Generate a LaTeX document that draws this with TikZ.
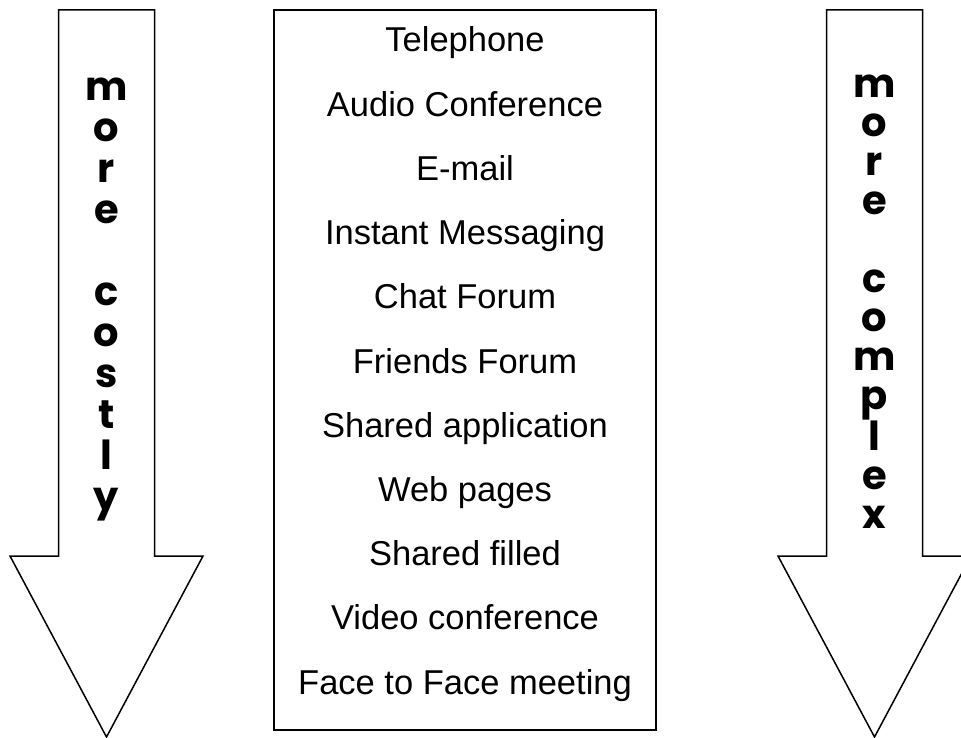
\documentclass[tikz,border=0pt]{standalone}
\usepackage{fontspec}
\setmainfont{Liberation Sans}
\newfontfamily\comicfont{Poppins}
\usetikzlibrary{positioning}

\tikzset{
  item/.style={anchor=base,font=\fontsize{34.5}{40}\selectfont},
  stack/.style={align=center,inner sep=0pt,font=\comicfont\bfseries\fontsize{40}{#1}\selectfont}
}

\begin{document}
\begin{tikzpicture}[x=1pt,y=-1pt,line width=1.5pt]
\useasboundingbox (0,0) rectangle (961,738);
%\draw[red] (0,0) rectangle (961,738);
\begin{scope}
    % left arrow
    \draw (58.5,10) -- (154.5,10) -- (154.5,556) -- (203,556)
        -- (106.5,737) -- (10,556) -- (58.5,556) -- cycle;
    \node[stack=41] (cost) at (106.5,300) {m\\o\\r\\e\\[41pt]c\\o\\s\\t\\l\\y};
\end{scope}
\begin{scope}
    % list of media
    \draw (274,10) rectangle (656,730);
    \node[item] (a) at (465,52) {Telephone};
    \node[item] (b) at (465,116.2) {Audio Conference};
    \node[item] (c) at (465,180.4) {E-mail};
    \node[item] (d) at (465,244.6) {Instant Messaging};
    \node[item] (e) at (465,308.8) {Chat Forum};
    \node[item] (f) at (465,373) {Friends Forum};
    \node[item] (g) at (465,437.2) {Shared application};
    \node[item] (h) at (465,501.4) {Web pages};
    \node[item] (i) at (465,565.6) {Shared filled};
    \node[item] (j) at (465,629.8) {Video conference};
    \node[item] (k) at (465,694) {Face to Face meeting};
\end{scope}
\begin{scope}
    % right arrow
    \draw (826.5,10) -- (922.5,10) -- (922.5,556) -- (971,556)
        -- (874.5,737) -- (778,556) -- (826.5,556) -- cycle;
    \node[stack=39] (cplx) at (874.5,302) {m\\o\\r\\e\\[39pt]c\\o\\m\\p\\l\\e\\x};
\end{scope}
\end{tikzpicture}
\end{document}
